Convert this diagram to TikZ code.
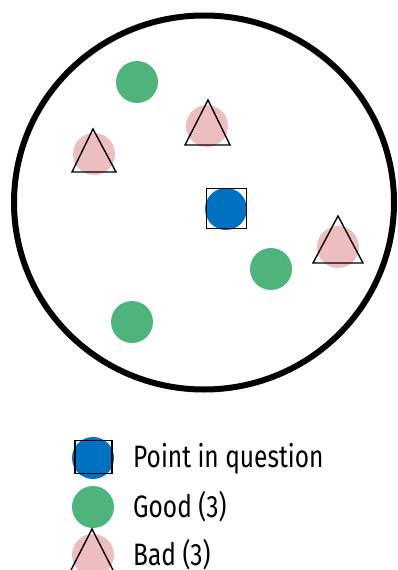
\documentclass[tikz,border=0pt]{standalone}
\usepackage{fontspec}
\usetikzlibrary{shapes.geometric}
\setmainfont{Fira Sans}[FakeStretch=0.79]
\definecolor{goodc}{RGB}{79,179,125}
\definecolor{badc}{RGB}{236,190,191}
\definecolor{qc}{RGB}{0,112,192}
\tikzset{
  goodpt/.style={circle,fill=goodc,minimum size=42pt,inner sep=0pt},
  badpt/.style={circle,fill=badc,minimum size=42pt,inner sep=0pt},
  qpt/.style={circle,fill=qc,minimum size=42pt,inner sep=0pt},
  qbox/.style={draw=black,line width=1.5pt,minimum size=40pt,inner sep=0pt},
  lqbox/.style={draw=black,line width=1.5pt,minimum width=37pt,minimum height=33pt,inner sep=0pt},
  tri/.style={draw=black,line width=1.4pt,line join=miter},
  lbl/.style={anchor=base west,font=\fontsize{31}{34}\selectfont,inner sep=0pt}
}
\begin{document}
\begin{tikzpicture}[x=1pt,y=-1pt]
\useasboundingbox (0,0) rectangle (398,570);
\clip (0,0) rectangle (398,570);
\node[draw=black,line width=6pt,ellipse,minimum width=380pt,minimum height=374pt,inner sep=0pt] (ring) at (204,202.5) {};
% good points
\node[goodpt] (g1) at (137,82) {};
\node[goodpt] (g2) at (271,269) {};
\node[goodpt] (g3) at (132,322) {};
% bad points
\node[badpt] (b1) at (94,154) {};
\node[badpt] (b2) at (207,126) {};
\node[badpt] (b3) at (338,247) {};
\draw[tri] (93,129) -- (116,172) -- (72,172) -- cycle;
\draw[tri] (208,100) -- (230,145) -- (185,145) -- cycle;
\draw[tri] (338,216) -- (363,263) -- (313,263) -- cycle;
% point in question
\node[qpt] (q) at (226,209) {};
\node[qbox] (qb) at (226.5,208.5) {};
% legend
\node[qpt] (lq) at (93,458) {};
\node[lqbox] (lqb) at (93.5,457) {};
\node[lbl] (t1) at (133,467) {Point in question};
\node[goodpt] (lg) at (93,507) {};
\node[lbl] (t2) at (133,517) {Good (3)};
\node[badpt] (lb) at (93,555) {};
\draw[tri] (92,529) -- (115,574) -- (69,574) -- cycle;
\node[lbl] (t3) at (133,565) {Bad (3)};
\end{tikzpicture}
\end{document}
